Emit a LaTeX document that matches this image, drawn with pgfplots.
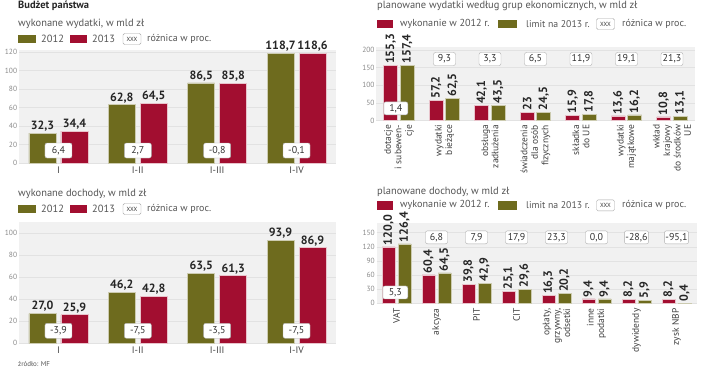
\documentclass[border=0pt]{standalone}
\usepackage{pgfplots}
\pgfplotsset{compat=1.18}
\usepackage{pgfplotstable}
\usepackage{fontspec}
\setmainfont{PT Sans}
\definecolor{olv}{HTML}{6E6B1E}
\definecolor{crim}{HTML}{A20E30}
\definecolor{bgc}{HTML}{F1F1F1}
\definecolor{gridc}{HTML}{E2E2E2}
\definecolor{tickc}{HTML}{8A8A8A}
\definecolor{txt}{HTML}{555555}

\pgfplotstableread{
x a b la lb
0 32.3 34.4 32,3 34,4
1 62.8 64.5 62,8 64,5
2 86.5 85.8 86,5 85,8
3 118.7 118.6 118,7 118,6
}\tA
\pgfplotstableread{
x a b la lb
0 27.0 25.9 27,0 25,9
1 46.2 42.8 46,2 42,8
2 63.5 61.3 63,5 61,3
3 93.9 86.9 93,9 86,9
}\tB
\pgfplotstableread{
x a b la lb
0 155.3 157.4 155,3 157,4
1 57.2 62.5 57,2 62,5
2 42.1 43.5 42,1 43,5
3 23 24.5 23 24,5
4 15.9 17.8 15,9 17,8
5 13.6 16.2 13,6 16,2
6 10.8 13.1 10,8 13,1
}\tC
\pgfplotstableread{
x a b la lb
0 120.0 126.4 120,0 126,4
1 60.4 64.5 60,4 64,5
2 39.8 42.9 39,8 42,9
3 25.1 29.6 25,1 29,6
4 16.3 20.2 16,3 20,2
5 9.4 9.4 9,4 9,4
6 8.2 5.9 8,2 5,9
7 8.2 0.4 8,2 0,4
}\tD

\pgfplotsset{
  panel/.style={
    scale only axis, anchor=south west, clip=false,
    xmin=-0.5, ymin=0,
    axis line style={draw=none}, major tick length=0pt,
    ymajorgrids, grid style={draw=gridc, line width=0.8bp},
    axis background/.style={fill=bgc},
    yticklabel style={font=\fontsize{7.5}{8}\selectfont, text=tickc, inner sep=1.5bp},
    /pgf/number format/assume math mode=true,
    point meta=explicit symbolic,
  },
  vlab/.style={
    nodes near coords,
    every node near coord/.append style={font=\bfseries\fontsize{12}{12}\selectfont, text=black!85, inner sep=1.5bp, anchor=south},
  },
  rotlab/.style={
    nodes near coords={\rotatebox{90}{\pgfplotspointmeta}},
    every node near coord/.append style={font=\bfseries\fontsize{12}{12}\selectfont, text=black!85, inner sep=1.5bp, anchor=south},
    xtick=\empty,
  },
}

\tikzset{
  dbox/.style={draw=gray!65, fill=white, rounded corners=2bp, font=\fontsize{10}{10}\selectfont, text=black!80, inner sep=1bp},
  subt/.style={anchor=west, inner sep=0, font=\fontsize{10.5}{12}\selectfont, text=txt},
  leg/.style={anchor=west, inner sep=0, font=\fontsize{10.2}{12}\selectfont, text=txt},
  xxx/.style={draw=gray!70, rounded corners=1.5bp, fill=white, font=\fontsize{6}{6}\selectfont, text=black!80, minimum width=18bp, minimum height=11bp, inner sep=0},
  xl/.style={rotate=90, anchor=east, align=right, inner sep=0, font=\fontsize{9.5}{10.5}\selectfont, text=black!75},
}

\begin{document}
\begin{tikzpicture}
\fill[white] (0,0) rectangle (720bp,-381bp);
\useasboundingbox (0,0) rectangle (720bp,-381bp);

% ---------- titles and legends, left
\node[anchor=west, inner sep=0, font=\bfseries\fontsize{10.5}{12}\selectfont, text=black!85] at (18bp,-6bp) {Budżet państwa};
\node[subt] at (18bp,-24bp) {wykonane wydatki, w mld zł};
\fill[olv] (18bp,-35bp) rectangle (36bp,-43bp);
\node[leg, font=\fontsize{10.5}{12}\selectfont] at (41bp,-39bp) {2012};
\fill[crim] (70bp,-35bp) rectangle (87bp,-43bp);
\node[leg, font=\fontsize{10.5}{12}\selectfont] at (92bp,-39bp) {2013};
\node[xxx] at (132bp,-39bp) {XXX};
\node[leg, font=\fontsize{10}{12}\selectfont] at (147bp,-39bp) {różnica w proc.};

\node[subt] at (18bp,-194bp) {wykonane dochody, w mld zł};
\fill[olv] (18bp,-205bp) rectangle (36bp,-213bp);
\node[leg, font=\fontsize{10.5}{12}\selectfont] at (41bp,-209bp) {2012};
\fill[crim] (70bp,-205bp) rectangle (87bp,-213bp);
\node[leg, font=\fontsize{10.5}{12}\selectfont] at (92bp,-209bp) {2013};
\node[xxx] at (132bp,-209bp) {XXX};
\node[leg, font=\fontsize{10}{12}\selectfont] at (147bp,-209bp) {różnica w proc.};

\node[anchor=west, inner sep=0, font=\fontsize{7}{8}\selectfont, text=txt] at (18bp,-364.5bp) {źródło: MF};

% ---------- titles and legends, right
\node[subt] at (377bp,-6bp) {planowane wydatki według grup ekonomicznych, w mld zł};
\fill[crim] (377bp,-19.5bp) rectangle (393bp,-28bp);
\node[leg] at (400bp,-24bp) {wykonanie w 2012 r.};
\fill[olv] (498bp,-19.5bp) rectangle (517bp,-28bp);
\node[leg, font=\fontsize{9.8}{12}\selectfont] at (526bp,-24bp) {limit na 2013 r.};
\node[xxx] at (605.5bp,-24bp) {XXX};
\node[leg, font=\fontsize{10}{12}\selectfont] at (622bp,-24bp) {różnica w proc.};

\node[subt] at (377bp,-192bp) {planowane dochody, w mld zł};
\fill[crim] (377bp,-201bp) rectangle (393bp,-209.5bp);
\node[leg] at (400bp,-205.3bp) {wykonanie w 2012 r.};
\fill[olv] (498bp,-201bp) rectangle (517bp,-209.5bp);
\node[leg, font=\fontsize{9.8}{12}\selectfont] at (526bp,-205.3bp) {limit na 2013 r.};
\node[xxx] at (605.5bp,-205.3bp) {XXX};
\node[leg, font=\fontsize{10}{12}\selectfont] at (622bp,-205.3bp) {różnica w proc.};

% ---------- panel 1
\begin{axis}[panel, ybar=5bp, bar width=27bp, vlab,
  at={(18.8bp,-163bp)}, width=317.4bp, height=112.9bp,
  xmax=3.5, ymax=122, ytick={0,20,...,120},
  xtick={0,1,2,3}, xticklabels={I,I-II,I-III,I-IV},
  xticklabel style={font=\fontsize{9.5}{10}\selectfont, text=black!75}]
\addplot[fill=olv, draw=olv!35!white, line width=0.8bp] table[x=x,y=a,meta=la]{\tA};
\addplot[fill=crim, draw=crim!25!white, line width=0.8bp] table[x=x,y=b,meta=lb]{\tA};
\node[dbox, minimum width=27bp, minimum height=15bp] at (axis cs:0,13.5) {6,4};
\node[dbox, minimum width=27bp, minimum height=15bp] at (axis cs:1,13.5) {2,7};
\node[dbox, minimum width=27bp, minimum height=15bp] at (axis cs:2,13.5) {-0,8};
\node[dbox, minimum width=27bp, minimum height=15bp] at (axis cs:3,13.5) {-0,1};
\end{axis}

% ---------- panel 2
\begin{axis}[panel, ybar=5bp, bar width=27bp, vlab,
  at={(18.8bp,-343.3bp)}, width=317.4bp, height=121bp,
  xmax=3.5, ymax=110, ytick={0,20,...,100},
  xtick={0,1,2,3}, xticklabels={I,I-II,I-III,I-IV},
  xticklabel style={font=\fontsize{9.5}{10}\selectfont, text=black!75}]
\addplot[fill=olv, draw=olv!35!white, line width=0.8bp] table[x=x,y=a,meta=la]{\tB};
\addplot[fill=crim, draw=crim!25!white, line width=0.8bp] table[x=x,y=b,meta=lb]{\tB};
\node[dbox, minimum width=27bp, minimum height=15bp] at (axis cs:0,11.4) {-3,9};
\node[dbox, minimum width=27bp, minimum height=15bp] at (axis cs:1,11.4) {-7,5};
\node[dbox, minimum width=27bp, minimum height=15bp] at (axis cs:2,11.4) {-3,5};
\node[dbox, minimum width=27bp, minimum height=15bp] at (axis cs:3,11.4) {-7,5};
\end{axis}

% ---------- panel 3
\begin{axis}[panel, ybar=2.5bp, bar width=14bp, rotlab,
  at={(376.25bp,-120.7bp)}, width=318.5bp, height=74.2bp,
  xmax=6.5, ymax=210, ytick={0,50,...,200}]
\addplot[fill=crim, draw=crim!25!white, line width=0.7bp] table[x=x,y=a,meta=la]{\tC};
\addplot[fill=olv, draw=olv!35!white, line width=0.7bp] table[x=x,y=b,meta=lb]{\tC};
\node[dbox, minimum width=24bp, minimum height=13bp] at (axis cs:-0.07,35) {1,4};
\node[dbox, minimum width=22bp, minimum height=13bp] at (axis cs:1,174.5) {9,3};
\node[dbox, minimum width=22bp, minimum height=13bp] at (axis cs:2,174.5) {3,3};
\node[dbox, minimum width=22bp, minimum height=13bp] at (axis cs:3,174.5) {6,5};
\node[dbox, minimum width=22bp, minimum height=13bp] at (axis cs:4,174.5) {11,9};
\node[dbox, minimum width=22bp, minimum height=13bp] at (axis cs:5,174.5) {19,1};
\node[dbox, minimum width=22bp, minimum height=13bp] at (axis cs:6,174.5) {21,3};
\node[xl] at ([yshift=-4bp]axis cs:0,0) {dotacje\\i subewen-\\cje};
\node[xl] at ([yshift=-4bp]axis cs:1,0) {wydatki\\bieżące};
\node[xl] at ([yshift=-4bp]axis cs:2,0) {obsługa\\zadłużenia};
\node[xl] at ([yshift=-4bp]axis cs:3,0) {świadczenia\\dla osób\\fizycznych};
\node[xl] at ([yshift=-4bp]axis cs:4,0) {składka\\do UE};
\node[xl] at ([yshift=-4bp]axis cs:5,0) {wydatki\\majątkowe};
\node[xl] at ([yshift=-4bp]axis cs:6,0) {wkład\\krajowy\\do środków\\UE};
\end{axis}

% ---------- panel 4
\begin{axis}[panel, ybar=3bp, bar width=13bp, rotlab,
  at={(376.5bp,-303.3bp)}, width=320bp, height=79.9bp,
  xmax=7.5, ymax=170, ytick={0,30,...,150}]
\addplot[fill=crim, draw=crim!25!white, line width=0.7bp] table[x=x,y=a,meta=la]{\tD};
\addplot[fill=olv, draw=olv!35!white, line width=0.7bp] table[x=x,y=b,meta=lb]{\tD};
\node[dbox, minimum width=25bp, minimum height=13bp] at (axis cs:-0.03,23) {5,3};
\node[dbox, minimum width=22bp, minimum height=13bp] at (axis cs:1,140.4) {6,8};
\node[dbox, minimum width=22bp, minimum height=13bp] at (axis cs:2,140.4) {7,9};
\node[dbox, minimum width=22bp, minimum height=13bp] at (axis cs:3,140.4) {17,9};
\node[dbox, minimum width=22bp, minimum height=13bp] at (axis cs:4,140.4) {23,3};
\node[dbox, minimum width=22bp, minimum height=13bp] at (axis cs:5,140.4) {0,0};
\node[dbox, minimum width=22bp, minimum height=13bp] at (axis cs:6,140.4) {-28,6};
\node[dbox, minimum width=22bp, minimum height=13bp] at (axis cs:7,140.4) {-95,1};
\node[xl] at ([yshift=-5bp]axis cs:0,0) {VAT};
\node[xl] at ([yshift=-5bp]axis cs:1,0) {akcyza};
\node[xl] at ([yshift=-5bp]axis cs:2,0) {PIT};
\node[xl] at ([yshift=-5bp]axis cs:3,0) {CIT};
\node[xl] at ([yshift=-5bp]axis cs:4,0) {opłaty,\\grzywny,\\odsetki};
\node[xl] at ([yshift=-5bp]axis cs:5,0) {inne\\podatki};
\node[xl] at ([yshift=-5bp]axis cs:6,0) {dywidendy};
\node[xl] at ([yshift=-5bp]axis cs:7,0) {zysk NBP};
\end{axis}
\end{tikzpicture}
\end{document}
